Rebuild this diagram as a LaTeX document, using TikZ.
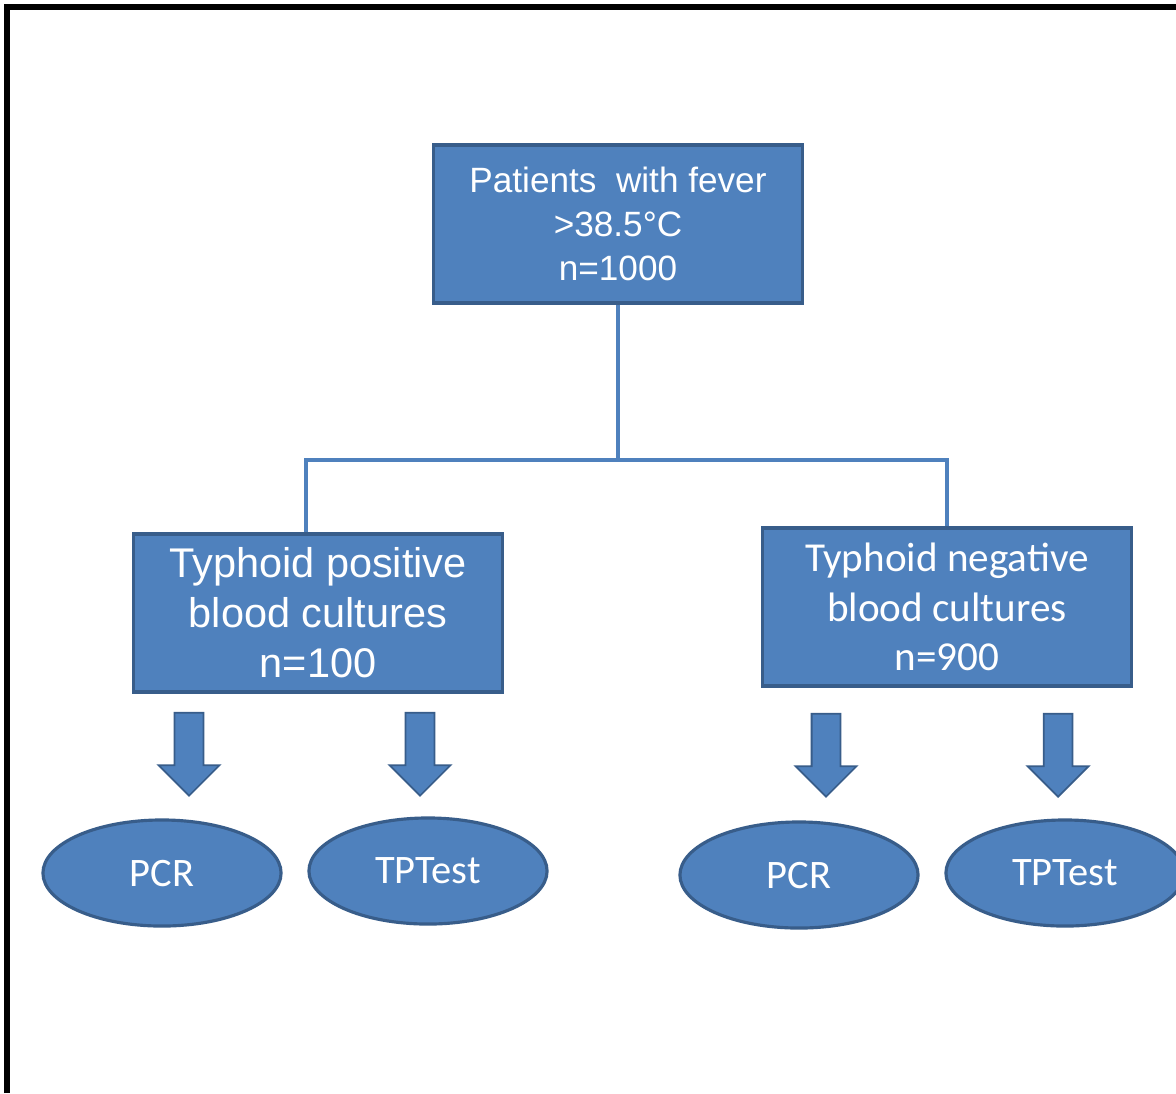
\documentclass[tikz,border=0pt]{standalone}
\usepackage{fontspec}
\setmainfont{Liberation Sans}
\newfontfamily\calibri{Carlito}
\usetikzlibrary{positioning,shapes,arrows}

\definecolor{boxblue}{HTML}{4F81BD}
\definecolor{edgeblue}{HTML}{385D8A}

\tikzset{
	box/.style={draw=edgeblue, fill=boxblue, line width=0.9pt, text=white, align=center,
		inner sep=0pt, minimum width=3.68cm, minimum height=1.58cm},
	oval/.style={ellipse, draw=edgeblue, fill=boxblue, line width=0.9pt, text=white,
		minimum width=2.38cm, minimum height=1.06cm, font=\calibri\fontsize{11.5}{14}\selectfont},
	blockarrow/.style={single arrow, draw=edgeblue, fill=boxblue, line width=0.5pt, rotate=-90,
		inner xsep=0pt, inner ysep=0.135cm, minimum height=0.83cm, single arrow head extend=0.16cm},
	link/.style={draw=boxblue, line width=1pt}
}

\begin{document}
\begin{tikzpicture}[x=0.01cm,y=-0.01cm]
		\fill[white] (0,0) rectangle (1176,1093);
		\useasboundingbox (0,0) rectangle (1176,1093);
		\clip (0,0) rectangle (1176,1093);
		\draw[line width=1.6pt] (7,1093) -- (7,7) -- (1176,7);
		
		\node[box, font=\fontsize{10}{12.5}\selectfont] (fever) at (618,224) {Patients\ \ with fever\\>38.5°C\\n=1000};
		\node[box, font=\fontsize{11.8}{14.2}\selectfont] (pos) at (318,613) {Typhoid positive\\blood cultures\\n=100};
		\node[box, font=\calibri\fontsize{11.7}{14}\selectfont] (neg) at (947,607) {Typhoid negative\\blood cultures\\n=900};
		
		\coordinate (split) at (618,460);
		\draw[link] (fever.south) -- (split);
		\draw[link] (split) -| ([xshift=-0.12cm]pos.north);
		\draw[link] (split) -| (neg.north);
		
		\node[blockarrow] (arrPosPCR) at (189,747) {};
		\node[blockarrow] (arrPosTP) at (420,747) {};
		\node[blockarrow] (arrNegPCR) at (826,748) {};
		\node[blockarrow] (arrNegTP) at (1058,748) {};
		
		\node[oval] (posPCR) at (162,873) {PCR};
		\node[oval] (posTP) at (428,871) {TPTest};
		\node[oval] (negPCR) at (799,875) {PCR};
		\node[oval] (negTP) at (1065,873) {TPTest};
		
	\end{tikzpicture}
\end{document}
